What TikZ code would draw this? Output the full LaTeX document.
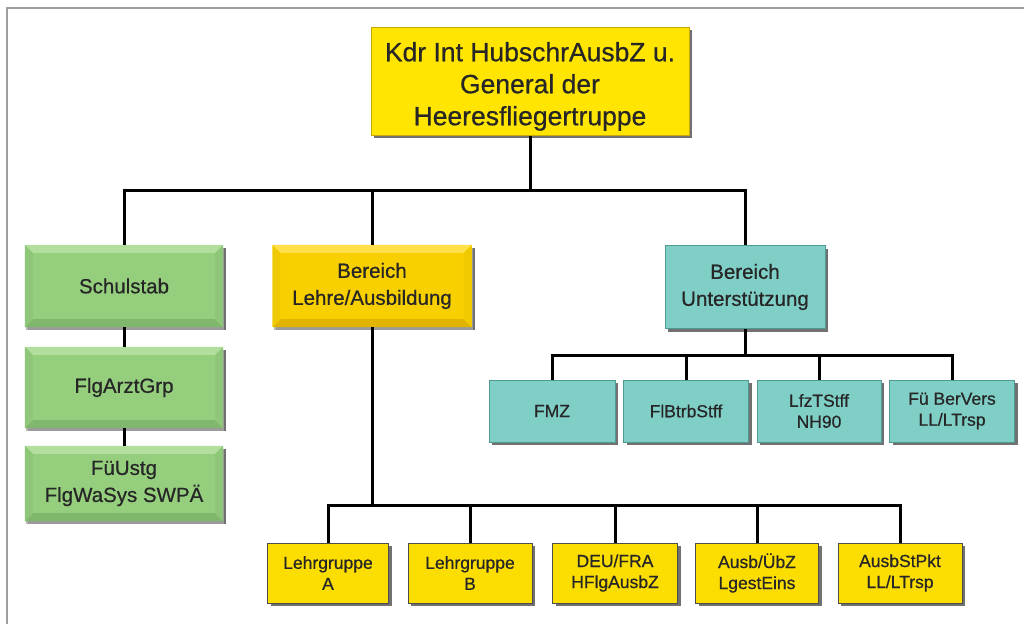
\documentclass[tikz,border=0pt]{standalone}
\usepackage{fontspec}
\setmainfont{Liberation Sans}[FakeBold=0.6]
\usetikzlibrary{shadows}
\definecolor{topyel}{HTML}{FFE500}
\definecolor{topyeldk}{HTML}{C9A800}
\definecolor{lyel}{HTML}{F8D000}
\definecolor{lyellt}{HTML}{FFE04A}
\definecolor{lyeldk}{HTML}{E0B400}
\definecolor{byel}{HTML}{FCDD00}
\definecolor{grn}{HTML}{95CF7E}
\definecolor{grnlt}{HTML}{B2DE9E}
\definecolor{grndk}{HTML}{7FB86C}
\definecolor{teal}{HTML}{80CFC6}
\definecolor{tealdk}{HTML}{4E9A92}
\tikzset{
  box/.style={rectangle, inner sep=0pt, align=center, text=black!85,
    drop shadow={shadow xshift=3pt, shadow yshift=-3pt, fill=black!65, opacity=0.85}},
  topbox/.style={box, fill=topyel, draw=topyeldk, line width=1pt,
    minimum width=318, minimum height=108,
    font=\fontsize{26.5}{32}\selectfont},
  grnbox/.style={box, fill=grn, minimum width=198,
    font=\fontsize{20.5}{27}\selectfont,
    drop shadow={shadow xshift=1pt, shadow yshift=-3pt, fill=black!35, opacity=0.8}},
  lehrbox/.style={box, fill=lyel, minimum width=199, minimum height=82,
    font=\fontsize{20.5}{27}\selectfont,
    drop shadow={shadow xshift=1pt, shadow yshift=-3pt, fill=black!35, opacity=0.8}},
  untbox/.style={box, fill=teal, draw=tealdk, line width=1pt,
    minimum width=160, minimum height=83,
    font=\fontsize{20.5}{27}\selectfont},
  tealbox/.style={box, fill=teal, draw=tealdk, line width=1pt,
    minimum height=62, font=\fontsize{17.5}{21}\selectfont},
  ybox/.style={box, fill=byel, draw=black!70, line width=1pt,
    minimum height=60, font=\fontsize{17.5}{21}\selectfont},
  conn/.style={line width=3pt, black}
}
\newcommand\bevelbox[4]{%
  \fill[#2] (#1.north west) -- (#1.north east) -- ([xshift=-8pt,yshift=-8pt]#1.north east) -- ([xshift=8pt,yshift=-8pt]#1.north west) -- cycle;
  \fill[#3] (#1.south west) -- (#1.south east) -- ([xshift=-8pt,yshift=8pt]#1.south east) -- ([xshift=8pt,yshift=8pt]#1.south west) -- cycle;
  \fill[#4] (#1.north west) -- ([xshift=8pt,yshift=-8pt]#1.north west) -- ([xshift=8pt,yshift=8pt]#1.south west) -- (#1.south west) -- cycle;
  \fill[#4] (#1.north east) -- ([xshift=-8pt,yshift=-8pt]#1.north east) -- ([xshift=-8pt,yshift=8pt]#1.south east) -- (#1.south east) -- cycle;
}
\begin{document}
\begin{tikzpicture}[x=1pt,y=-1pt]
\useasboundingbox (0,0) rectangle (1024,624);
\fill[white] (0,0) rectangle (1024,624);
\draw[gray!75, line width=2pt] (7,624) -- (7,8) -- (1024,8);

% top
\node[topbox] (top) at (530,81) {\rule{0pt}{30pt}Kdr Int HubschrAusbZ u.\\General der\\Heeresfliegertruppe};

% second level
\node[grnbox, minimum height=82] (schul) at (124,286) {Schulstab};
\node[grnbox, minimum height=81] (arzt) at (124,387.5) {FlgArztGrp};
\node[grnbox, minimum height=75] (fuest) at (124,483.5) {FüUstg\\FlgWaSys SWPÄ};
\node[lehrbox] (lehre) at (372,286) {Bereich\\Lehre/Ausbildung};
\node[untbox] (unt) at (745,287) {Bereich\\Unterstützung};

\bevelbox{schul}{grnlt}{grndk}{grn!96!black}
\bevelbox{arzt}{grnlt}{grndk}{grn!96!black}
\bevelbox{fuest}{grnlt}{grndk}{grn!96!black}
\bevelbox{lehre}{lyellt}{lyeldk}{lyel!97!black}

% support row
\node[tealbox, minimum width=126] (fmz) at (552,411) {FMZ};
\node[tealbox, minimum width=125] (flb) at (686,411) {FlBtrbStff};
\node[tealbox, minimum width=124] (lfz) at (819,411) {LfzTStff\\NH90};
\node[tealbox, minimum width=125] (fub) at (952,411) {Fü BerVers\\LL/LTrsp};

% training row
\node[ybox, minimum width=121] (lga) at (328,573) {Lehrgruppe\\A};
\node[ybox, minimum width=124] (lgb) at (470,573) {Lehrgruppe\\B};
\node[ybox, minimum width=125] (deu) at (615,573) {DEU/FRA\\HFlgAusbZ};
\node[ybox, minimum width=123] (ausb) at (757,573) {Ausb/ÜbZ\\LgestEins};
\node[ybox, minimum width=124] (stp) at (900,573) {AusbStPkt\\LL/LTrsp};

% connectors
\coordinate (h1) at (530,190);
\coordinate (h2) at (372,505);
\coordinate (h3) at (745,355);
\draw[conn] (top.south) -- (h1);
\draw[conn] (schul.north) |- (h1) -| (unt.north);
\draw[conn] (lehre.north) -- (lehre.north |- h1);
\draw[conn] (schul.south) -- (arzt.north);
\draw[conn] (arzt.south) -- (fuest.north);
\draw[conn] (lehre.south) -- (h2);
\draw[conn] (lga.north) |- (h2) -| (stp.north);
\draw[conn] (lgb.north) -- (lgb.north |- h2);
\draw[conn] (deu.north) -- (deu.north |- h2);
\draw[conn] (ausb.north) -- (ausb.north |- h2);
\draw[conn] (unt.south) -- (h3);
\draw[conn] (fmz.north) |- (h3) -| (fub.north);
\draw[conn] (flb.north) -- (flb.north |- h3);
\draw[conn] (lfz.north) -- (lfz.north |- h3);
\end{tikzpicture}
\end{document}
